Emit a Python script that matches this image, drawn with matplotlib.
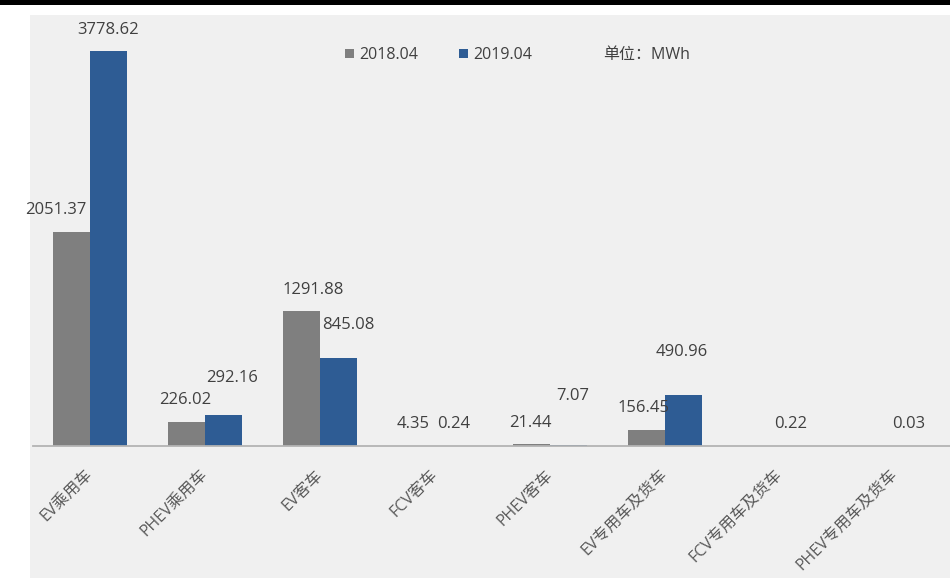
import numpy as np
import matplotlib
matplotlib.use("Agg")
import matplotlib.pyplot as plt
from matplotlib.patches import Rectangle
from matplotlib.transforms import ScaledTranslation

plt.rcParams['font.family'] = ['Open Sans', 'Noto Sans CJK SC', 'DejaVu Sans']

categories = ['EV乘用车', 'PHEV乘用车', 'EV客车', 'FCV客车', 'PHEV客车',
              'EV专用车及货车', 'FCV专用车及货车', 'PHEV专用车及货车']
val_2018 = [2051.37, 226.02, 1291.88, 4.35, 21.44, 156.45, np.nan, np.nan]
val_2019 = [3778.62, 292.16, 845.08, 0.24, 7.07, 490.96, 0.22, 0.03]

# label offsets from the bar top, in pixels (dx, dy)
off_2018 = [(-16, 22), (-1, 22), (12, 21), (-3, 22), (-1, 21), (-3, 22), (0, 22), (0, 22)]
off_2019 = [(0, 21), (9, 37), (10, 33), (0, 22), (4, 49), (-2, 43), (-8, 22), (-5, 22)]

gray = '#7f7f7f'
blue = '#2e5c94'
txt = '#404040'

W, H = 950, 582
fig = plt.figure(figsize=(W / 100, H / 100), dpi=100)

# panel background and top rule
fig.patches.append(Rectangle((30 / W, 4 / H), 920 / W, 563 / H, transform=fig.transFigure,
                             facecolor='#f0f0f0', edgecolor='none', zorder=-10))
fig.patches.append(Rectangle((0, 577 / H), 1, 5 / H, transform=fig.transFigure,
                             facecolor='black', edgecolor='none', zorder=-10))

ax = fig.add_axes([32.5 / W, 136 / H, 917.5 / W, 431 / H])
ax.set_facecolor('none')

x = np.arange(len(categories))
w = 0.32
b1 = ax.bar(x - w / 2, val_2018, w, color=gray, label='2018.04')
b2 = ax.bar(x + w / 2, val_2019, w, color=blue, label='2019.04')

for vals, offs, shift in [(val_2018, off_2018, -w / 2), (val_2019, off_2019, w / 2)]:
    for i, v in enumerate(vals):
        if np.isnan(v):
            continue
        ax.annotate(f'{v:.2f}', (x[i] + shift, v), xytext=offs[i],
                    textcoords='offset pixels', ha='center', va='center',
                    fontsize=12, color=txt)

ax.set_xlim(-0.5, 7.5 - 2.5 / 115)
ax.set_ylim(0, 4123)
ax.axhline(0, color='#b4b4b4', lw=1.3, clip_on=False)
for s in ax.spines.values():
    s.set_visible(False)
ax.set_yticks([])
ax.set_xticks(x)
ax.set_xticklabels(categories, rotation=45, ha='right', fontsize=11.5, color='#595959')
ax.tick_params(axis='x', length=0, pad=15)
# nudge the slanted category names a little to the right
nudge = ScaledTranslation(6 / 100, 0, fig.dpi_scale_trans)
for lbl in ax.get_xticklabels():
    lbl.set_transform(lbl.get_transform() + nudge)

fig.legend(handles=[b1, b2], loc='center left', bbox_to_anchor=(331 / W, 1 - 55 / H),
           ncol=2, frameon=False, handlelength=0.55, handleheight=0.55, handletextpad=0.3,
           columnspacing=2.6, fontsize=11.5, labelcolor=txt)
fig.text(603 / W, 1 - 55 / H, '单位：MWh', fontsize=11.5, color=txt, va='center')

fig.savefig('out.png', dpi=100, facecolor='white')
